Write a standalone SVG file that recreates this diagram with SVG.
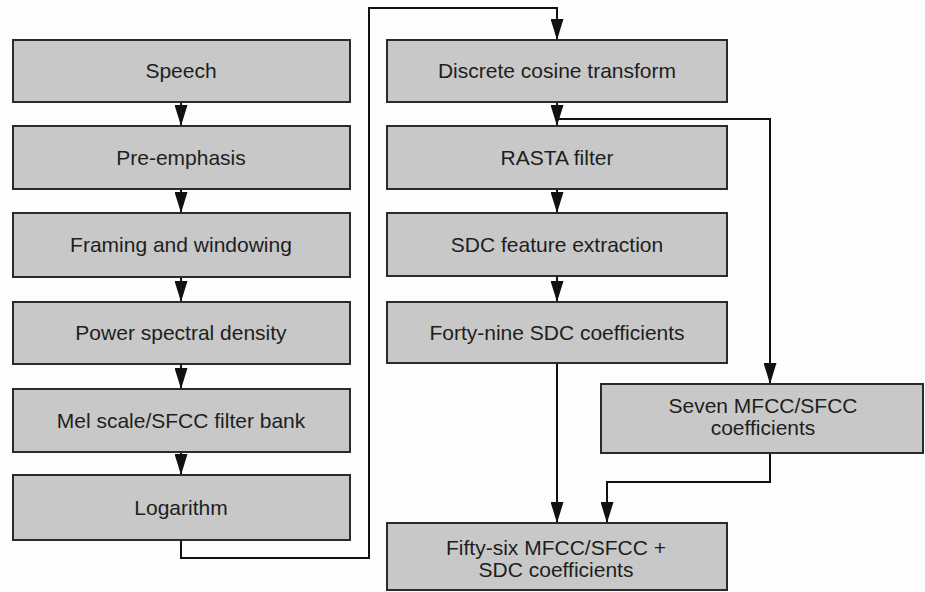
<svg xmlns="http://www.w3.org/2000/svg" width="925" height="592" viewBox="0 0 925 592">
<style>
.box{fill:#c8c8c8;stroke:#2b2b2b;stroke-width:2}
.lbl{font-family:"Liberation Sans",Arial,sans-serif;font-size:21px;fill:#1e1e1e;text-anchor:middle}
.con{fill:none;stroke:#111;stroke-width:2}
</style>
<defs>
<marker id="ah" markerUnits="userSpaceOnUse" viewBox="0 -6.5 21 13" refX="21" refY="0" markerWidth="21" markerHeight="13" orient="auto">
<path d="M0,-6.5 L21,0 L0,6.5 z" fill="#111"/>
</marker>
</defs>
<rect width="925" height="592" fill="#fdfdfd"/>
<g id="connectors">
<path class="con" d="M181,102 V126" marker-end="url(#ah)"/>
<path class="con" d="M181,189 V213" marker-end="url(#ah)"/>
<path class="con" d="M181,277 V302" marker-end="url(#ah)"/>
<path class="con" d="M181,364 V389" marker-end="url(#ah)"/>
<path class="con" d="M181,452 V475" marker-end="url(#ah)"/>
<path class="con" d="M181,540 V558 H369 V8 H557 V40" marker-end="url(#ah)"/>
<path class="con" d="M557,102 V126" marker-end="url(#ah)"/>
<path class="con" d="M557,119 H770 V384" marker-end="url(#ah)"/>
<path class="con" d="M557,189 V213" marker-end="url(#ah)"/>
<path class="con" d="M557,276 V302" marker-end="url(#ah)"/>
<path class="con" d="M557,363 V523" marker-end="url(#ah)"/>
<path class="con" d="M770,453 V482 H607 V523" marker-end="url(#ah)"/>
</g>
<g id="speech"><rect class="box" x="13" y="40" width="337" height="62"/><text class="lbl" x="181" y="78">Speech</text></g>
<g id="preemphasis"><rect class="box" x="13" y="126" width="337" height="63"/><text class="lbl" x="181" y="165">Pre-emphasis</text></g>
<g id="framing"><rect class="box" x="13" y="213" width="337" height="64"/><text class="lbl" x="181" y="252">Framing and windowing</text></g>
<g id="psd"><rect class="box" x="13" y="302" width="337" height="62"/><text class="lbl" x="181" y="340">Power spectral density</text></g>
<g id="mel"><rect class="box" x="13" y="389" width="337" height="63"/><text class="lbl" x="181" y="428">Mel scale/SFCC filter bank</text></g>
<g id="log"><rect class="box" x="13" y="475" width="337" height="65"/><text class="lbl" x="181" y="515">Logarithm</text></g>
<g id="dct"><rect class="box" x="387" y="40" width="340" height="62"/><text class="lbl" x="557" y="78">Discrete cosine transform</text></g>
<g id="rasta"><rect class="box" x="387" y="126" width="340" height="63"/><text class="lbl" x="557" y="165">RASTA filter</text></g>
<g id="sdc"><rect class="box" x="387" y="213" width="340" height="63"/><text class="lbl" x="557" y="252">SDC feature extraction</text></g>
<g id="fortynine"><rect class="box" x="387" y="302" width="340" height="61"/><text class="lbl" x="557" y="340">Forty-nine SDC coefficients</text></g>
<g id="seven"><rect class="box" x="601" y="384" width="322" height="69"/><text class="lbl" x="763" y="413">Seven MFCC/SFCC</text><text class="lbl" x="763" y="435">coefficients</text></g>
<g id="fiftysix"><rect class="box" x="387" y="523" width="340" height="67"/><text class="lbl" x="556" y="555">Fifty-six MFCC/SFCC +</text><text class="lbl" x="556" y="577">SDC coefficients</text></g>
</svg>
